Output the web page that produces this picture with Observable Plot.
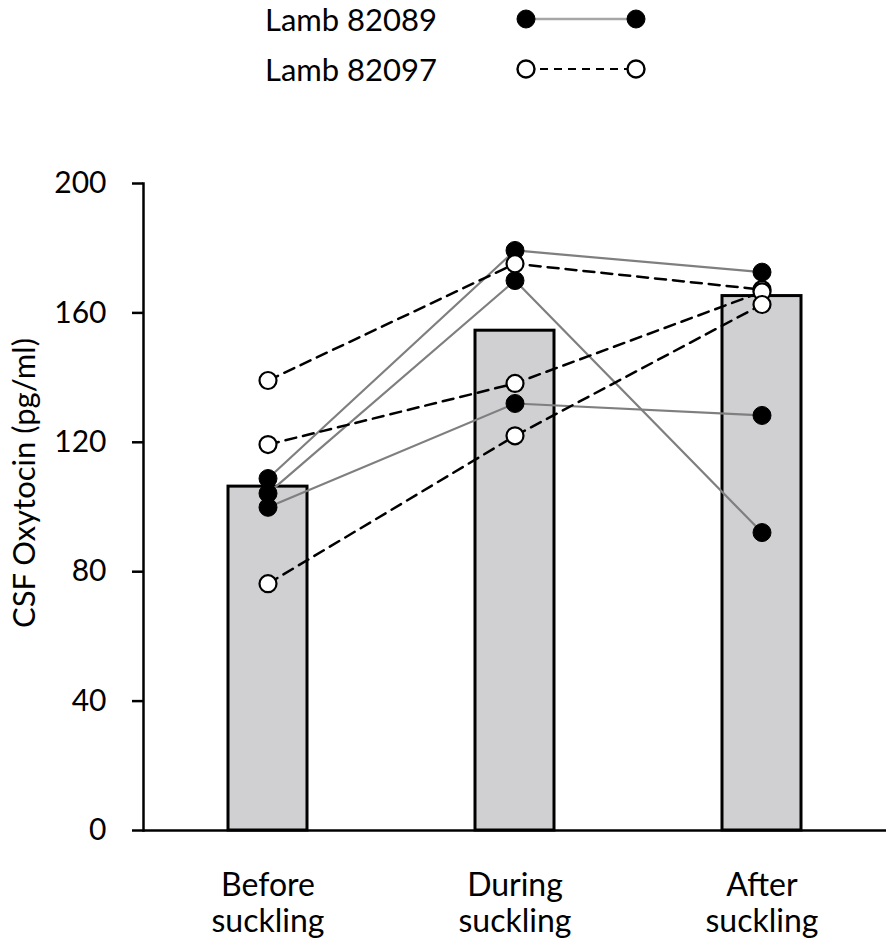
<!DOCTYPE html>
<html><head><meta charset="utf-8">
<script src="https://cdn.jsdelivr.net/npm/d3@7"></script>
<script src="https://cdn.jsdelivr.net/npm/@observablehq/plot@0.6"></script>
<style>
body{margin:0;background:#fff;font-family:Lato,"Open Sans",sans-serif;}
#legend{display:block;}
</style></head><body>
<svg id="legend" width="886" height="100"></svg>
<div id="chart"></div>
<script>
// ---- data ----
const phases = ["Before suckling", "During suckling", "After suckling"];
const barValues = [106.3, 154.5, 165.2];
const lambs = ["Lamb 82089", "Lamb 82097"];
const yTitle = ["CSF Oxytocin (pg/ml)"];
// each row: one trial, values for Before / During / After
const lamb82089 = [
  [108.8, 179.3, 172.6],
  [104.2, 170.0, 92.1],
  [99.9, 132.0, 128.3]
];
const lamb82097 = [
  [139.1, 175.2, 167.2],
  [119.3, 138.2, 166.5],
  [76.3, 122.0, 162.6]
];
const yTicks = [0, 40, 80, 120, 160, 200];

// ---- tables ----
const bars = phases.map((p, i) => ({phase: p, value: barValues[i]}));
const toPoints = (rows, lamb) => rows.flatMap((row, t) =>
  row.map((v, i) => ({lamb, trial: lamb + "-" + t, phase: phases[i], value: v})));
const pA = toPoints(lamb82089, lambs[0]);
const pB = toPoints(lamb82097, lambs[1]);

// ---- legend ----
const lg = d3.select("#legend");
const rows = [
  {name: lambs[0], cy: 19, filled: true},
  {name: lambs[1], cy: 69, filled: false}
];
rows.forEach(r => {
  lg.append("text").attr("x", 265).attr("y", r.cy + 12)
    .attr("font-family", "Lato").attr("font-size", 31).attr("fill", "black").text(r.name);
  lg.append("line").attr("x1", 526).attr("x2", 636).attr("y1", r.cy).attr("y2", r.cy)
    .attr("stroke", r.filled ? "#a6a6a6" : "black").attr("stroke-width", r.filled ? 2.5 : 2.2)
    .attr("stroke-dasharray", r.filled ? null : "8,6");
  [526, 636].forEach(cx => lg.append("circle").attr("cx", cx).attr("cy", r.cy)
    .attr("r", r.filled ? 9 : 8.5).attr("fill", r.filled ? "black" : "white")
    .attr("stroke", "black").attr("stroke-width", r.filled ? 1 : 2.4));
});

// ---- chart ----
const chart = Plot.plot({
  width: 886,
  height: 841,
  marginLeft: 143,
  marginRight: 0,
  marginTop: 83,
  marginBottom: 111,
  style: {fontFamily: "Lato", color: "black", background: "white"},
  x: {domain: phases, paddingInner: 0.68, paddingOuter: 0.34},
  y: {domain: [0, 200]},
  marks: [
    Plot.barY(bars, {x: "phase", y: "value", fill: "#d0cfd1", stroke: "black", strokeWidth: 3}),
    Plot.ruleY([0], {stroke: "black", strokeWidth: 2.5}),
    Plot.frame({anchor: "left", stroke: "black", strokeWidth: 2.5}),
    Plot.axisY({ticks: yTicks, tickSize: 11, tickPadding: 26, strokeWidth: 2.5, fontSize: 30, label: null}),
    Plot.text(yTitle, {frameAnchor: "left", rotate: -90, dx: -118, dy: -24, fontSize: 31,
      textAnchor: "middle", fill: "black"}),
    Plot.axisX({tickSize: 0, tickPadding: 40, fontSize: 32, lineHeight: 1.13,
      tickFormat: d => d.replace(" ", "\n"), label: null}),
    Plot.line(pA, {x: "phase", y: "value", z: "trial", stroke: "#7f7f7f", strokeWidth: 2.2}),
    Plot.line(pB, {x: "phase", y: "value", z: "trial", stroke: "black", strokeWidth: 2.5, strokeDasharray: "11,7"}),
    Plot.dot(pA, {x: "phase", y: "value", r: 9, fill: "black", stroke: "black", strokeWidth: 1}),
    Plot.dot(pB, {x: "phase", y: "value", r: 8.5, fill: "white", stroke: "black", strokeWidth: 2.2})
  ]
});
document.getElementById("chart").append(chart);
</script>
</body></html>
